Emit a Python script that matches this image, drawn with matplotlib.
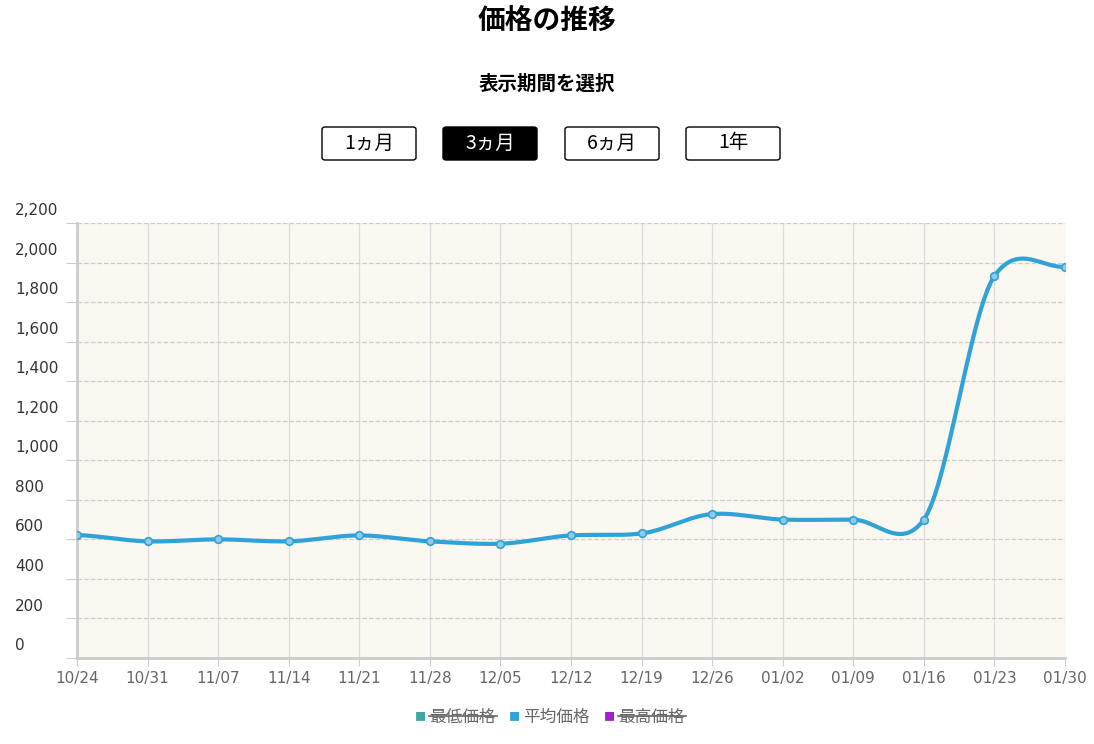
import numpy as np
import matplotlib
matplotlib.use("Agg")
import matplotlib.pyplot as plt
from matplotlib.patches import FancyBboxPatch
from matplotlib.transforms import blended_transform_factory

plt.rcParams['font.family'] = ['Noto Sans CJK JP', 'DejaVu Sans']

dates = ["10/24","10/31","11/07","11/14","11/21","11/28","12/05","12/12","12/19","12/26","01/02","01/09","01/16","01/23","01/30"]
avg = [622, 590, 600, 590, 620, 590, 578, 620, 630, 728, 700, 700, 700, 1932, 1978]
buttons = ["1ヵ月", "3ヵ月", "6ヵ月", "1年"]
legend_labels = ["最低価格", "平均価格", "最高価格"]
legend_colors = ["#3fa8a0", "#2fa3d8", "#a020d0"]

def smooth(x, y, n=20, k=0.4):
    x = np.asarray(x, float); y = np.asarray(y, float)
    m = np.zeros_like(y)
    for i in range(1, len(y) - 1):
        m[i] = k * (y[i+1] - y[i-1])
    m[0] = k * (y[1] - y[0]); m[-1] = k * (y[-1] - y[-2])
    xs, ys = [], []
    for i in range(len(y) - 1):
        t = np.linspace(0, 1, n, endpoint=False)
        h00 = 2*t**3 - 3*t**2 + 1; h10 = t**3 - 2*t**2 + t
        h01 = -2*t**3 + 3*t**2; h11 = t**3 - t**2
        xs.append(x[i] + t)
        ys.append(h00*y[i] + h10*m[i] + h01*y[i+1] + h11*m[i+1])
    xs.append([x[-1]]); ys.append([y[-1]])
    return np.concatenate(xs), np.concatenate(ys)

fig = plt.figure(figsize=(10.94, 7.44), dpi=100)
fig.text(0.5, 0.972, "価格の推移", ha='center', va='center', fontsize=20, fontweight='bold')
fig.text(0.5, 0.887, "表示期間を選択", ha='center', va='center', fontsize=14, fontweight='bold')
cx = [369, 490, 612, 733]
for i, (b, c) in enumerate(zip(buttons, cx)):
    sel = i == 1
    x0 = (c - 47) / 1094; y0 = 1 - 160/744
    p = FancyBboxPatch((x0, y0), 94/1094, 33/744, boxstyle="round,pad=0,rounding_size=0.003",
                       transform=fig.transFigure, facecolor='black' if sel else 'white',
                       edgecolor='black', linewidth=1)
    fig.patches.append(p)
    fig.text(c/1094, 1 - 143/744, b, ha='center', va='center', fontsize=14,
             color='white' if sel else 'black')

ax = fig.add_axes([77/1094, 1 - 658/744, (1065-77)/1094, (658-223)/744])
ax.set_facecolor('#faf8f0')
x = np.arange(len(dates))
xs, ys = smooth(x, avg)
ax.plot(xs, ys, color='#2fa3d8', lw=3, zorder=3)
ax.scatter(x, avg, s=30, facecolor='#8fcbe8', edgecolor='#2fa3d8', lw=1.2, zorder=4)
ax.set_xlim(0, len(dates) - 1)
ax.set_ylim(0, 2200)
yt = list(range(0, 2201, 200))
ax.set_yticks(yt)
ax.set_yticklabels([])
tr = blended_transform_factory(fig.transFigure, ax.transData)
for v in yt:
    ax.text(15/1094, v + 25, f"{v:,}", transform=tr, ha='left', va='bottom',
            fontsize=11, color='#333333', family=['DejaVu Sans'])
ax.set_xticks(x)
ax.set_xticklabels(dates)
ax.grid(axis='y', ls='--', color='#cccccc', lw=0.9)
ax.grid(axis='x', ls='-', color='#dddddd', lw=0.9)
for s in ['top', 'right']:
    ax.spines[s].set_visible(False)
ax.spines['left'].set_color('#cccccc'); ax.spines['bottom'].set_color('#cccccc')
ax.spines['left'].set_linewidth(2); ax.spines['bottom'].set_linewidth(2)
ax.tick_params(axis='y', length=8, color='#cccccc')
ax.tick_params(axis='x', length=6, color='#cccccc', labelsize=11, labelcolor='#666666')
for lab in ax.get_xticklabels():
    lab.set_family(['DejaVu Sans'])

lx = [420, 514, 609]
for l, c, px in zip(legend_labels, legend_colors, lx):
    fig.text((px-5)/1094, 1-717/744, "■", color=c, fontsize=8, va='center', ha='left')
    fig.text((px+9)/1094, 1-717/744, l, color='#666666', fontsize=12, va='center', ha='left')
    if l != "平均価格":
        fig.add_artist(plt.Line2D([(px+9)/1094, (px+77)/1094], [1-716/744]*2, color='#666666', lw=1.2,
                                  transform=fig.transFigure))
fig.savefig("out.png", dpi=100)
